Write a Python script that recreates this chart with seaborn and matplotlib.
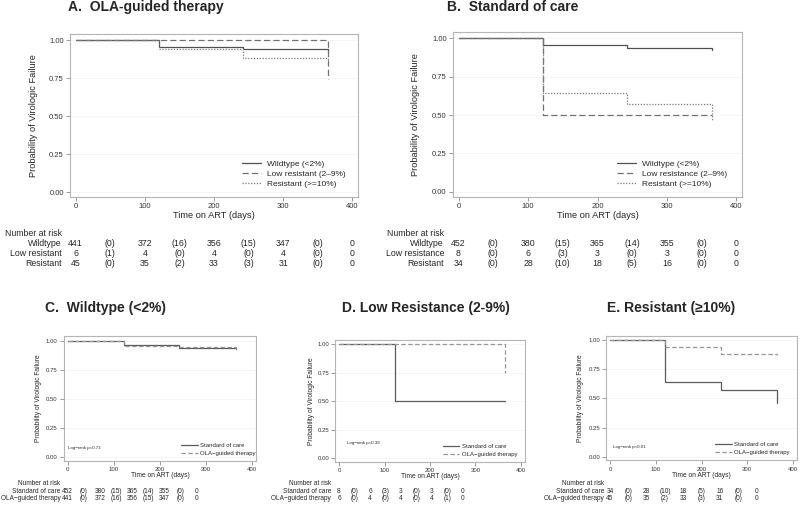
"""
Kaplan-Meier style step plots of virologic failure by resistance group,
with number-at-risk tables under each panel.
"""
import numpy as np
import pandas as pd
import seaborn as sns
import matplotlib.pyplot as plt
from matplotlib.lines import Line2D
from matplotlib.ticker import FormatStrFormatter
from matplotlib.transforms import blended_transform_factory

W, H = 800, 505

# Event times (days) and estimated probabilities
ola_wt_t = [0, 121, 242, 365]
ola_wt_s = [1.0, 0.956, 0.942, 0.925]
ola_low_t = [0, 364]
ola_low_s = [1.0, 0.745]
ola_res_t = [0, 121, 242, 365]
ola_res_s = [1.0, 0.940, 0.884, 0.872]

soc_wt_t = [0, 121, 242, 365]
soc_wt_s = [1.0, 0.960, 0.940, 0.925]
soc_low_t = [0, 122, 365]
soc_low_s = [1.0, 0.5, 0.5]
soc_res_t = [0, 121, 242, 365]
soc_res_s = [1.0, 0.645, 0.572, 0.465]

# Number at risk / censored between visits
ola_wt_risk = [441, 372, 356, 347, 0]
ola_wt_cens = [0, 16, 15, 0]
ola_low_risk = [6, 4, 4, 4, 0]
ola_low_cens = [1, 0, 0, 0]
ola_res_risk = [45, 35, 33, 31, 0]
ola_res_cens = [0, 2, 3, 0]

soc_wt_risk = [452, 380, 365, 355, 0]
soc_wt_cens = [0, 15, 14, 0]
soc_low_risk = [8, 6, 3, 3, 0]
soc_low_cens = [0, 3, 0, 0]
soc_res_risk = [34, 28, 18, 16, 0]
soc_res_cens = [0, 10, 5, 0]

# Panel D shows the OLA-guided low resistance row censored at the end
ola_low_cens_d = [0, 0, 0, 1]

group_labels_a = ['Wildtype (<2%)', 'Low resistant (2\u20139%)', 'Resistant (>=10%)']
group_labels_b = ['Wildtype (<2%)', 'Low resistance (2\u20139%)', 'Resistant (>=10%)']
table_labels_a = ['Wildtype', 'Low resistant', 'Resistant']
table_labels_b = ['Wildtype', 'Low resistance', 'Resistant']
arm_labels = ['Standard of care', 'OLA\u2212guided therapy']
pvalues = ['Log\u2212rank p=0.73', 'Log\u2212rank p=0.39', 'Log\u2212rank p<0.01']

sns.set_style('white')
plt.rcParams['font.family'] = ['Liberation Sans', 'DejaVu Sans']

fig = plt.figure(figsize=(8, 5.05), dpi=100)


def px_axes(left, top, right, bottom):
    return fig.add_axes([left / W, 1 - bottom / H, (right - left) / W, (bottom - top) / H])


def km(ax, t, s, color, ls, lw=0.9):
    df = pd.DataFrame({'t': t, 's': s})
    sns.lineplot(data=df, x='t', y='s', drawstyle='steps-post', color=color,
                 linestyle=ls, lw=lw, estimator=None, sort=False, ax=ax)


def style_axes(ax, tick_fs, label_fs, ylab_px, xlab_px):
    ax.set_xlim(-8, 408)
    ax.set_ylim(-0.032, 1.04)
    ax.set_xticks([0, 100, 200, 300, 400])
    ax.set_yticks([0, 0.25, 0.5, 0.75, 1.0])
    ax.yaxis.set_major_formatter(FormatStrFormatter('%.2f'))
    ax.yaxis.grid(True, color='#f2f2f2', lw=0.5)
    for sp in ax.spines.values():
        sp.set_color('#b5b5b5')
        sp.set_linewidth(0.8)
    ax.tick_params(length=3, width=0.6, color='#8a8a8a', pad=1.5,
                   labelsize=tick_fs, labelcolor='#333333', left=True, bottom=True)
    ax.set_xlabel('Time on ART (days)', fontsize=label_fs, va='center')
    ax.set_ylabel('Probability of Virologic Failure', fontsize=label_fs, va='center')
    pos = ax.get_position()
    ax.xaxis.set_label_coords(0.5, ((1 - xlab_px / H) - pos.y0) / pos.height)
    ax.yaxis.set_label_coords((ylab_px / W - pos.x0) / pos.width, 0.5)


def legend(ax, handles, labels, x_px, y_px, fs, hl, htp, ls):
    ax.legend(handles, labels, loc='center left', bbox_to_anchor=(x_px / W, 1 - y_px / H),
              bbox_transform=fig.transFigure, frameon=False, fontsize=fs, borderpad=0,
              borderaxespad=0, handlelength=hl, handletextpad=htp, labelspacing=ls)


def risk_table(ax, labels, risks, cens, label_px, rows_px, step, fs):
    tr = blended_transform_factory(ax.transData, fig.transFigure)
    fig.text(label_px / W, 1 - rows_px[0] / H, 'Number at risk', ha='right', va='center', fontsize=fs)
    for lab, r, c, y in zip(labels, risks, cens, rows_px[1:]):
        fig.text(label_px / W, 1 - y / H, lab, ha='right', va='center', fontsize=fs)
        cells = []
        for i in range(len(r)):
            cells.append(str(r[i]))
            if i < len(c):
                cells.append('(%d)' % c[i])
        for j, v in enumerate(cells):
            ax.text(j * step, 1 - y / H, v, transform=tr, ha='center', va='center',
                    fontsize=fs, clip_on=False)


dash_long = (0, (5, 2.5))
dots = (0, (1, 1.3))
dash_short = (0, (3.5, 2))
c_solid, c_dash, c_dot = '#505050', '#707070', '#7a7a7a'

# ---- Panel A and B: by resistance group ----
top_panels = [
    ('A.  OLA-guided therapy', (70, 34, 358, 197), 68, 33,
     [(ola_wt_t, ola_wt_s), (ola_low_t, ola_low_s), (ola_res_t, ola_res_s)],
     group_labels_a, table_labels_a,
     [ola_wt_risk, ola_low_risk, ola_res_risk], [ola_wt_cens, ola_low_cens, ola_res_cens], 62, 242),
    ('B.  Standard of care', (453, 32.3, 742, 196.7), 446.7, 415.7,
     [(soc_wt_t, soc_wt_s), (soc_low_t, soc_low_s), (soc_res_t, soc_res_s)],
     group_labels_b, table_labels_b,
     [soc_wt_risk, soc_low_risk, soc_res_risk], [soc_wt_cens, soc_low_cens, soc_res_cens], 444, 616.7),
]

styles = [(c_solid, '-'), (c_dash, dash_long), (c_dot, dots)]
for title, rect, tx, ylab, curves, glabs, tlabs, risks, cens, lab_px, leg_x in top_panels:
    ax = px_axes(*rect)
    for (t, s), (col, ls) in zip(curves, styles):
        km(ax, t, s, col, ls)
    style_axes(ax, 5.5, 6.7, ylab, 215.5)
    handles = [Line2D([], [], color=col, ls=ls, lw=0.9) for col, ls in styles]
    legend(ax, handles, glabs, leg_x, 174, 6, 2.3, 0.7, 0.25)
    fig.text(tx / W, 1 - 7 / H, title, fontsize=10, fontweight='bold', ha='left', va='center')
    risk_table(ax, tlabs, risks, cens, lab_px, [233.3, 244, 253.5, 263], 50, 6.3)

# ---- Panels C, D, E: arms within each group ----
bottom_panels = [
    ('C.  Wildtype (<2%)', (64, 336, 256, 461), 45, 38.3,
     (soc_wt_t, soc_wt_s), (ola_wt_t, ola_wt_s),
     [soc_wt_risk, ola_wt_risk], [soc_wt_cens, ola_wt_cens], 60.7, 35, 181, 449.2, (68.3, 448)),
    ('D. Low Resistance (2-9%)', (335.4, 339.7, 524.6, 462), 342, 311.7,
     (soc_low_t, soc_low_s), (ola_low_t, ola_low_s),
     [soc_low_risk, ola_low_risk], [soc_low_cens, ola_low_cens_d], 331, 34, 442.7, 450.3, (347.3, 442.7)),
    ('E. Resistant (\u226510%)', (606.3, 335.6, 796.7, 460.4), 606.7, 580,
     (soc_res_t, soc_res_s), (ola_res_t, ola_res_s),
     [soc_res_risk, ola_res_risk], [soc_res_cens, ola_res_cens], 604, 40, 715, 448.5, (612.7, 447.3)),
]

c_soc, c_ola = '#5a5a5a', '#959595'
for k, (title, rect, tx, ylab, soc, ola, risks, cens, lab_px, step, leg_x, leg_y, pv_xy) in enumerate(bottom_panels):
    ax = px_axes(*rect)
    km(ax, soc[0], soc[1], c_soc, '-')
    km(ax, ola[0], ola[1], c_ola, dash_short)
    xlab = rect[3] + 14.7
    style_axes(ax, 4.3, 4.8, ylab, xlab)
    handles = [Line2D([], [], color=c_soc, ls='-', lw=0.9),
               Line2D([], [], color=c_ola, ls=dash_short, lw=0.9)]
    legend(ax, handles, arm_labels, leg_x, leg_y, 4.3, 2.8, 0.4, 0.47)
    fig.text(pv_xy[0] / W, 1 - pv_xy[1] / H, pvalues[k], fontsize=3.2, ha='left', va='center')
    fig.text(tx / W, 1 - 308.3 / H, title, fontsize=10, fontweight='bold', ha='left', va='center')
    risk_table(ax, arm_labels, risks, cens, lab_px, [483.5, 491.5, 499], step, 4.7)

fig.savefig('out.png', dpi=100)
